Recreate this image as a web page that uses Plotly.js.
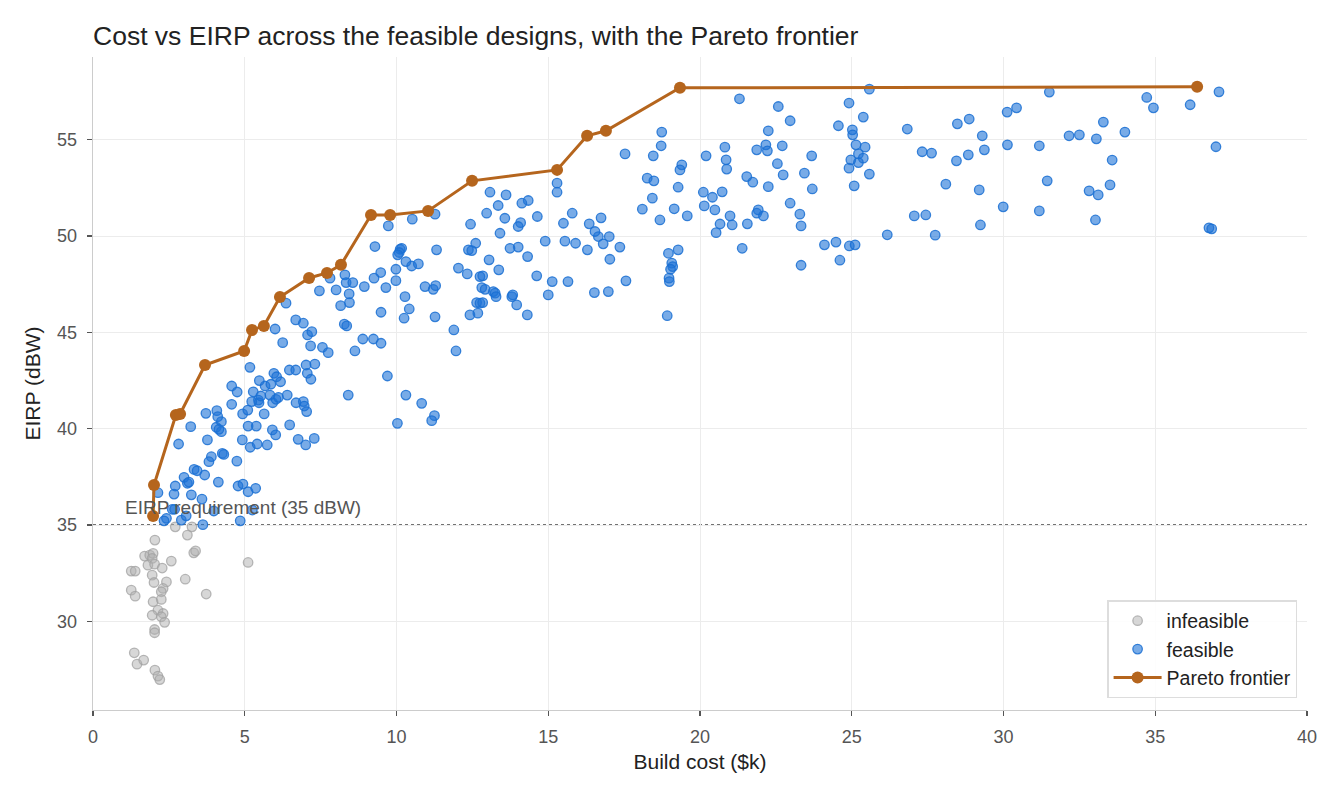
<html>
<head>
<meta charset="utf-8">
<script src="https://cdn.plot.ly/plotly-3.0.1.min.js"></script>
<style>
  body { margin: 0; background: #fff; }
  #chart { width: 1344px; height: 800px; }
</style>
</head>
<body>
<div id="chart"></div>
<script>
// designs that miss the 35 dBW requirement
var infeasibleCost = [2.71, 3.26, 2.04, 3.11, 1.70, 1.87, 1.98, 1.95, 1.81, 2.03, 2.28, 2.58, 3.32, 3.38, 5.11,
  1.26, 1.39, 1.95, 2.01, 2.42, 3.04, 2.31, 2.25, 1.26, 1.39, 3.73, 1.98, 2.25, 2.14, 2.31, 2.25, 2.36, 1.95,
  2.03, 2.03, 1.36, 1.45, 1.67, 2.04, 2.14, 2.20];
var infeasibleEirp = [34.91, 34.91, 34.22, 34.48, 33.39, 33.44, 33.53, 33.27, 32.92, 32.97, 32.77, 33.13, 33.56, 33.66, 33.06,
  32.61, 32.61, 32.40, 32.02, 32.05, 32.19, 31.71, 31.54, 31.62, 31.31, 31.42, 31.02, 31.14, 30.58, 30.41, 30.24, 29.95, 30.32,
  29.58, 29.41, 28.37, 27.78, 27.99, 27.47, 27.16, 26.98];

// designs that meet it
var feasibleCost = [3.22, 4.06, 4.23, 4.23, 4.15, 5.11, 5.38, 5.91, 6.02, 6.48, 2.82, 3.77, 4.92, 5.18, 5.41, 5.74,
  3.90, 3.82, 4.26, 4.31, 4.74, 3.33, 3.43, 3.68, 3.00, 3.11, 3.16, 4.13, 2.71, 2.67, 2.14, 3.24, 3.59, 4.78, 4.94,
  5.11, 5.36, 2.61, 2.69, 2.42, 2.34, 2.91, 3.07, 3.62, 3.98, 4.85, 5.25, 3.72, 4.08, 4.11, 4.57, 4.57, 4.75, 4.93,
  5.10, 5.17, 5.28, 5.45, 5.47, 5.23, 5.48, 5.67, 5.86, 5.96, 6.05, 6.18, 5.64, 5.53, 5.83, 5.92, 6.03, 6.11, 6.40,
  6.69, 6.93, 6.96, 7.04, 6.76, 7.01, 7.29, 6.47, 6.68, 7.02, 7.31, 7.06, 7.18, 6.00, 6.25, 6.68, 6.93, 7.07, 7.21,
  7.17, 7.56, 7.75, 6.36, 7.46, 7.81, 8.01, 8.16, 8.28, 8.36, 8.41, 8.30, 8.34, 13.08, 12.97, 13.41, 12.44, 11.27,
  10.52, 9.73, 9.29, 10.12, 10.17, 10.09, 10.04, 11.32, 10.31, 10.50, 10.72, 9.98, 9.98, 9.48, 9.26, 9.65, 8.94,
  8.56, 8.44, 8.45, 10.94, 11.21, 11.29, 10.28, 10.42, 10.25, 9.49, 11.27, 12.04, 12.33, 12.61, 12.37, 12.48, 13.05,
  12.75, 12.84, 12.81, 12.92, 13.19, 13.25, 13.28, 12.64, 12.75, 12.84, 12.42, 12.68, 11.89, 11.96, 13.37, 8.89,
  9.24, 9.49, 8.63, 9.70, 10.31, 10.83, 11.25, 11.16, 10.03, 21.30, 18.74, 18.72, 18.46, 17.53, 19.40, 19.34, 18.26,
  18.48, 19.28, 18.43, 18.10, 19.15, 18.68, 19.58, 20.20, 20.82, 20.86, 20.88, 20.11, 20.41, 20.73, 20.14, 20.49,
  20.99, 21.06, 20.66, 20.53, 21.54, 21.74, 21.87, 21.56, 21.92, 21.87, 21.39, 18.96, 19.28, 19.07, 19.10, 19.03,
  18.98, 18.99, 18.92, 17.56, 16.98, 16.52, 17.03, 17.36, 16.81, 17.01, 16.65, 16.54, 16.35, 16.74, 16.29, 15.90,
  15.55, 15.79, 15.50, 15.29, 15.29, 15.13, 15.65, 15.00, 14.90, 14.62, 14.31, 14.32, 14.01, 13.74, 13.96, 13.80,
  13.83, 14.64, 14.34, 14.13, 14.09, 14.01, 13.57, 13.61, 13.35, 22.58, 22.97, 22.25, 22.17, 22.22, 22.71, 22.55,
  22.74, 23.44, 23.68, 22.25, 22.97, 23.29, 23.33, 22.09, 23.70, 25.58, 24.91, 25.38, 24.56, 25.02, 25.03, 25.14,
  25.44, 25.22, 25.38, 24.97, 25.22, 24.91, 25.58, 25.08, 24.10, 24.48, 24.92, 25.11, 24.61, 23.33, 26.17, 26.83,
  27.32, 27.63, 28.10, 27.06, 27.44, 27.75, 28.48, 28.87, 29.30, 29.37, 28.84, 28.45, 29.20, 29.24, 29.99, 30.12,
  30.43, 30.13, 31.51, 34.72, 34.94, 36.15, 37.10, 33.29, 32.16, 32.50, 33.06, 34.00, 31.18, 37.00, 33.58, 31.44,
  32.82, 33.12, 33.51, 31.18, 33.03, 36.77, 36.86];
var feasibleEirp = [40.11, 40.08, 40.37, 39.85, 39.97, 40.14, 40.14, 39.94, 39.68, 40.20, 39.21, 39.42, 39.42, 39.04, 39.21, 39.16,
  38.55, 38.29, 38.72, 38.67, 38.32, 37.89, 37.82, 37.60, 37.48, 37.17, 37.23, 37.23, 37.03, 36.61, 36.68, 36.57, 36.35, 37.03, 37.13,
  36.73, 36.91, 35.82, 35.82, 35.35, 35.22, 35.26, 35.48, 35.02, 35.73, 35.22, 35.78, 40.80, 40.94, 40.63, 41.27, 42.22, 41.91, 40.77,
  40.97, 43.19, 41.92, 41.49, 41.35, 41.41, 42.50, 42.22, 42.31, 42.88, 42.70, 42.44, 40.77, 41.70, 41.75, 41.35, 41.53, 41.63, 41.75,
  41.35, 41.41, 41.18, 40.89, 39.45, 39.16, 39.50, 43.05, 43.05, 43.31, 43.36, 42.88, 42.57, 45.18, 44.47, 45.65, 45.48, 44.87, 45.04,
  44.30, 44.23, 43.95, 46.52, 47.16, 47.82, 47.21, 46.39, 45.43, 45.34, 41.75, 47.99, 47.59, 52.28, 51.19, 50.15, 50.62, 51.14,
  50.88, 50.53, 49.46, 49.32, 49.37, 49.15, 49.03, 49.29, 48.68, 48.45, 48.56, 48.28, 47.69, 48.11, 47.82, 47.33, 47.38,
  47.59, 47.00, 46.55, 47.38, 47.24, 47.43, 46.86, 46.22, 45.74, 46.05, 45.81, 48.34, 48.04, 49.63, 49.29, 49.25, 48.77,
  47.90, 47.94, 47.33, 47.24, 47.12, 47.04, 46.86, 46.55, 46.52, 46.55, 45.91, 46.00, 45.13, 44.04, 48.25, 44.66,
  44.66, 44.44, 44.04, 42.74, 41.75, 41.32, 40.68, 40.42, 40.28, 57.13, 55.40, 54.69, 54.17, 54.27, 53.70, 53.44, 53.01,
  52.87, 52.54, 51.97, 51.40, 51.42, 50.84, 51.05, 54.17, 54.62, 53.96, 53.48, 52.28, 52.02, 52.30, 51.57, 51.36,
  51.05, 50.58, 50.63, 50.18, 53.09, 52.80, 54.48, 50.64, 51.36, 51.19, 49.37, 49.11, 49.29, 48.60, 48.42, 48.28,
  47.82, 47.64, 45.87, 47.68, 47.12, 47.07, 48.80, 49.43, 49.60, 49.98, 49.98, 50.24, 50.64, 50.95, 49.29, 49.63,
  49.74, 51.19, 50.67, 52.75, 52.28, 47.64, 47.64, 46.95, 49.74, 47.94, 45.91, 48.94, 49.43, 49.37, 46.43, 46.86,
  46.95, 51.02, 51.85, 51.71, 50.70, 50.50, 50.93, 52.14, 51.59, 56.73, 55.99, 55.47, 54.74, 54.43, 54.69, 53.76,
  53.18, 53.27, 54.17, 52.57, 51.71, 51.14, 50.53, 51.05, 52.45, 57.63, 56.91, 56.18, 55.73, 55.52, 55.26, 54.74,
  54.62, 54.27, 54.05, 53.96, 53.82, 53.53, 53.22, 52.61, 49.55, 49.69, 49.49, 49.55, 48.75, 48.49, 50.07, 55.56,
  54.38, 54.31, 52.70, 51.05, 51.10, 50.05, 55.83, 56.08, 55.21, 54.48, 54.22, 53.91, 52.40, 50.58, 51.52, 56.44,
  56.66, 54.74, 57.48, 57.20, 56.66, 56.82, 57.49, 55.92, 55.21, 55.26, 55.05, 55.40, 54.69, 54.64, 53.95, 52.87,
  52.35, 52.14, 52.66, 51.31, 50.84, 50.43, 50.38];

// non-dominated designs
var frontierCost = [1.98, 2.01, 2.73, 2.87, 3.69, 4.98, 5.24, 5.63, 6.16, 7.12, 7.71, 8.17, 9.16, 9.79, 11.04,
  12.49, 15.29, 16.28, 16.90, 19.34, 36.38];
var frontierEirp = [35.47, 37.08, 40.71, 40.77, 43.31, 44.04, 45.13, 45.34, 46.84, 47.83, 48.09, 48.51, 51.10, 51.10, 51.31,
  52.87, 53.44, 55.21, 55.47, 57.70, 57.75];

var requirement = 35;

var traces = [
  {
    x: infeasibleCost, y: infeasibleEirp, name: 'infeasible',
    type: 'scatter', mode: 'markers',
    marker: { size: 9.5, color: 'rgba(175,175,175,0.5)', line: { color: 'rgba(160,160,160,0.75)', width: 1.3 } }
  },
  {
    x: feasibleCost, y: feasibleEirp, name: 'feasible',
    type: 'scatter', mode: 'markers',
    marker: { size: 9.5, color: 'rgba(30,115,215,0.6)', line: { color: 'rgba(25,110,210,0.85)', width: 1.3 } }
  },
  {
    x: frontierCost, y: frontierEirp, name: 'Pareto frontier',
    type: 'scatter', mode: 'lines+markers',
    line: { color: '#b5651d', width: 3 },
    marker: { size: 12, color: '#b5651d' }
  }
];

var layout = {
  width: 1344, height: 800,
  margin: { l: 93, r: 37, t: 57, b: 90 },
  paper_bgcolor: '#fff', plot_bgcolor: '#fff',
  font: { family: 'Liberation Sans, Arial, sans-serif', size: 18, color: '#222' },
  title: {
    text: 'Cost vs EIRP across the feasible designs, with the Pareto frontier',
    x: 0, xref: 'paper', xanchor: 'left', y: 0.955, yanchor: 'middle',
    font: { size: 26.5, color: '#222' }
  },
  xaxis: {
    range: [0, 40], dtick: 5,
    title: { text: 'Build cost ($k)', font: { size: 21 }, standoff: 8 },
    showgrid: true, gridcolor: '#ececec', zeroline: false,
    showline: true, linecolor: '#cccccc', linewidth: 1.3,
    ticks: 'outside', ticklen: 5, tickcolor: '#555', tickwidth: 1.3,
    ticklabelstandoff: 5,
    tickfont: { size: 18, color: '#555' }
  },
  yaxis: {
    range: [25.4, 59.3], tickvals: [30, 35, 40, 45, 50, 55],
    title: { text: 'EIRP (dBW)', font: { size: 21 }, standoff: 10 },
    showgrid: true, gridcolor: '#ececec', zeroline: false,
    showline: true, linecolor: '#cccccc', linewidth: 1.3,
    ticks: 'outside', ticklen: 5, tickcolor: '#555', tickwidth: 1.3,
    ticklabelstandoff: 6,
    tickfont: { size: 18, color: '#555' }
  },
  shapes: [{
    type: 'line', xref: 'paper', x0: 0, x1: 1, yref: 'y', y0: requirement, y1: requirement,
    line: { color: '#444', width: 1.6, dash: 'dot' }, layer: 'below'
  }],
  annotations: [{
    x: 1, y: requirement, xref: 'x', yref: 'y', xanchor: 'left', yanchor: 'bottom', yshift: 5,
    text: 'EIRP requirement (35 dBW)', showarrow: false,
    font: { size: 19, color: '#555' }
  }],
  legend: {
    x: 0.992, y: 0.018, xanchor: 'right', yanchor: 'bottom',
    bgcolor: 'rgba(255,255,255,0.9)', bordercolor: '#dddddd', borderwidth: 1.3,
    itemwidth: 48,
    font: { size: 19.5, color: '#222' }
  },
  showlegend: true
};

Plotly.newPlot('chart', traces, layout, { staticPlot: true });
</script>
</body>
</html>
